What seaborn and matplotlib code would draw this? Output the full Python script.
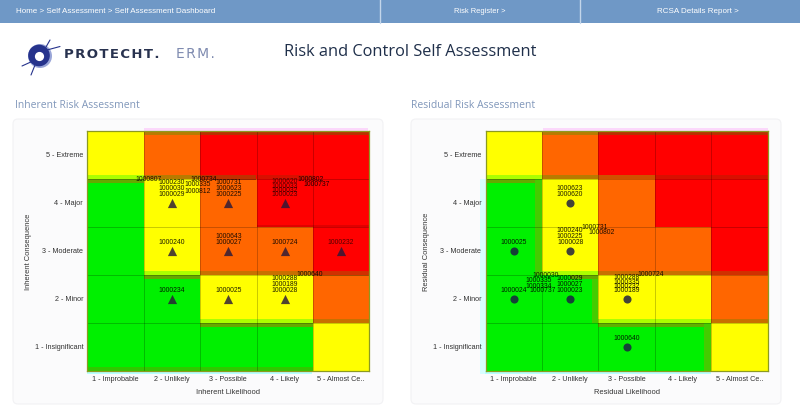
import numpy as np
import pandas as pd
import matplotlib
matplotlib.use('Agg')
import matplotlib.pyplot as plt
from matplotlib.colors import ListedColormap
from matplotlib.patches import FancyBboxPatch, Rectangle, Circle
import seaborn as sns

likelihood = ['1 - Improbable', '2 - Unlikely', '3 - Possible', '4 - Likely', '5 - Almost Ce..']
consequence = ['5 - Extreme', '4 - Major', '3 - Moderate', '2 - Minor', '1 - Insignificant']
# 0 green, 1 yellow, 2 orange, 3 red
risk_grid = [[1, 2, 3, 3, 3],
             [0, 1, 2, 3, 3],
             [0, 1, 2, 2, 3],
             [0, 0, 1, 1, 2],
             [0, 0, 0, 0, 1]]

# markers: column and row index into the grid, ids stacked above the marker
inh_cols = [1, 2, 3, 1, 2, 3, 4, 1, 2, 3]
inh_rows = [1, 1, 1, 2, 2, 2, 2, 3, 3, 3]
inh_ids = [['1000230', '1000030', '1000029'],
           ['1000731', '1000623', '1000225'],
           ['1000620', '1000033', '1000032', '1000023'],
           ['1000240'], ['1000643', '1000027'], ['1000724'], ['1000232'],
           ['1000234'], ['1000025'], ['1000288', '1000189', '1000028']]
# ids pushed off their stack, placed in cell units
inh_loose_ids = ['1000807', '1000734', '1000802', '1000737', '1000335', '1000812', '1000640']
inh_loose_x = [1.08, 2.07, 3.96, 4.07, 1.96, 1.96, 3.94]
inh_loose_y = [0.98, 0.98, 0.98, 1.1, 1.1, 1.23, 2.97]

res_cols = [1, 0, 1, 0, 1, 2, 2]
res_rows = [1, 2, 2, 3, 3, 3, 4]
res_ids = [['1000623', '1000620'], ['1000025'], ['1000240', '1000225', '1000028'],
           ['1000024'], ['1000029', '1000027', '1000023'],
           ['1000288', '1000335', '1000232', '1000189'], ['1000640']]
res_loose_ids = ['1000731', '1000802', '1000030', '1000335', '1000334', '1000737', '1000724']
res_loose_x = [1.93, 2.05, 1.07, 0.95, 0.95, 1.02, 2.93]
res_loose_y = [1.98, 2.1, 2.98, 3.1, 3.21, 3.3, 2.97]

CELL_H = 48.0
LIME = '#aaff00'
DARK_G = '#66a800'
DARK_O = '#b87a00'
DARK_R = '#b83000'
# left chart bleed strips: first col, last col, top px, bottom px, colour
inh_strips = [(1, 2, 132, 135.5, DARK_O), (2, 5, 132, 135.5, DARK_R),
              (0, 1, 176, 180, LIME), (0, 1, 180, 184, DARK_G), (1, 2, 176, 180, DARK_O),
              (2, 3, 176, 181, '#c03000'), (3, 4, 176, 180, '#d81000'), (3, 5, 226, 228, '#e00000'),
              (1, 2, 272, 276, LIME), (1, 2, 276, 280, DARK_G), (2, 4, 272, 276, '#c87000'),
              (4, 5, 272, 276, '#d03000'), (4, 5, 276, 277, '#d06000'),
              (2, 4, 320, 324, LIME), (2, 4, 324, 328, DARK_G), (4, 5, 320, 324, '#c87000'),
              (0, 4, 368, 372, '#30c800')]
res_strips = [(1, 2, 132, 135.5, DARK_O), (2, 5, 132, 135.5, DARK_R),
              (0, 1, 176, 180, LIME), (0, 1, 180, 184, DARK_G), (1, 2, 176, 180, DARK_O),
              (2, 3, 176, 180, '#d05000'), (3, 5, 176, 180, '#d81000'),
              (1, 2, 272, 276, LIME), (1.5, 2, 276, 280, DARK_G), (2, 4, 272, 276, '#c87000'),
              (4, 5, 272, 276, '#d03000'),
              (2, 4, 320, 324, LIME), (2, 4, 324, 328, '#60b000'), (4, 5, 320, 324, '#c87000'),
              (0.88, 1, 180, 276, '#44cc00'), (1.88, 2, 280, 324, '#44cc00'), (3.88, 4, 324, 372, '#44cc00')]

sns.set_theme(style='white')
plt.rcParams['font.family'] = ['Liberation Sans', 'DejaVu Sans']

fig = plt.figure(figsize=(8, 4.14), dpi=100, facecolor='white')
W, H = 800.0, 414.0

# page furniture drawn in pixel coordinates
page = fig.add_axes([0, 0, 1, 1], zorder=0)
page.set_xlim(0, W)
page.set_ylim(H, 0)
page.axis('off')
page.add_patch(Rectangle((0, 0), 800, 24, color='#6f98c6', lw=0))
for sep in [380, 580]:
    page.plot([sep, sep], [0, 24], color='#c4d6ea', lw=1)
page.text(16, 11.5, 'Home > Self Assessment > Self Assessment Dashboard', color='white', fontsize=5.75, va='center')
page.text(480, 11.5, 'Risk Register >', color='white', fontsize=5.4, ha='center', va='center')
page.text(698, 11.5, 'RCSA Details Report >', color='white', fontsize=5.75, ha='center', va='center')
page.text(410, 52.5, 'Risk and Control Self Assessment', color='#1f2f4a', fontsize=11.8, ha='center', va='center',
          family=['Open Sans', 'DejaVu Sans'])
page.text(15, 105.5, 'Inherent Risk Assessment', color='#8097ba', fontsize=7.5, va='center', family=['Open Sans', 'DejaVu Sans'])
page.text(411, 105.5, 'Residual Risk Assessment', color='#8097ba', fontsize=7.5, va='center', family=['Open Sans', 'DejaVu Sans'])

# logo
page.add_patch(Circle((40, 57), 12, color='#9aa6d8', lw=0))
page.add_patch(Circle((39, 56.5), 10.8, color='#26338c', lw=0))
page.add_patch(Circle((39.5, 57.5), 4.6, color='white', lw=0))
for x0, y0, x1, y1 in [(22, 67, 33, 62), (47, 51, 60, 47.5), (31, 76, 35, 66), (46, 48, 50, 41)]:
    page.plot([x0, x1], [y0, y1], color='#26338c', lw=0.8)
page.text(64, 54.5, '\u200a'.join('PROTECHT.'), color='#28324f', fontsize=9.5, fontweight='bold', va='center', family='DejaVu Sans')
page.text(176, 54.5, '\u200a'.join('ERM.'), color='#7f8bb0', fontsize=10, va='center', family='DejaVu Sans')

# chart cards and colour bleed around the grids
for x0, x1 in [(13, 383), (411, 781)]:
    page.add_patch(FancyBboxPatch((x0 + 5, 125), x1 - x0 - 10, 275, boxstyle='round,pad=5', fc='#fbfbfc', ec='#f2f2f4', lw=0.8))
page.add_patch(Rectangle((144, 128.5), 224, 3.5, color='#fbd8fb', lw=0))
page.add_patch(Rectangle((87, 372), 225, 3, color='#b8ffff', lw=0))
page.add_patch(Rectangle((543, 128.5), 225, 3.5, color='#fbd8fb', lw=0))
page.add_patch(Rectangle((480, 180), 5.5, 195, color='#d8ffff', lw=0))
page.add_patch(Rectangle((485, 372), 226, 3, color='#b8ffff', lw=0))

cmap = ListedColormap(['#00f000', '#ffff00', '#ff6600', '#ff0000'])
grid = pd.DataFrame(risk_grid, index=consequence, columns=likelihood)


def risk_map(left, xlabel, ylabel, ylabel_x, cols, rows, ids, loose_ids, loose_x, loose_y, strips, marker, msize, mcolor):
    ax = fig.add_axes([left / W, 1 - 372 / H, 282.0 / W, 240.0 / H], zorder=2)
    sns.heatmap(grid, ax=ax, cmap=cmap, vmin=-0.5, vmax=3.5, cbar=False, linewidths=0)
    for c0, c1, y0, y1, colour in strips:
        ax.add_patch(Rectangle((c0, (y0 - 132) / CELL_H), c1 - c0, (y1 - y0) / CELL_H, color=colour, lw=0, zorder=2))
    ax.hlines(range(1, 5), 0, 5, color='black', alpha=0.22, lw=0.7, zorder=2.5)
    ax.vlines(range(1, 5), 0, 5, color='black', alpha=0.22, lw=0.7, zorder=2.5)
    points = pd.DataFrame({'x': np.array(cols) + 0.5, 'y': np.array(rows) + 0.5})
    sns.scatterplot(data=points, x='x', y='y', ax=ax, marker=marker, s=msize, color=mcolor, alpha=0.82,
                    linewidth=0, legend=False, zorder=3)
    for c, r, stack in zip(cols, rows, ids):
        step = 4.2 if len(stack) > 3 else 6.0
        # ids on the red cells read fainter
        fade = 0.68 if risk_grid[r][c] == 3 else 0.88
        for i, label in enumerate(reversed(stack)):
            ax.text(c + 0.5, r + 0.5 - (9.5 + step * i) / CELL_H, label, fontsize=4.9, ha='center', va='center',
                    color='black', alpha=fade, zorder=4)
    for label, x, y in zip(loose_ids, loose_x, loose_y):
        ax.text(x, y, label, fontsize=4.9, ha='center', va='center', color='black', alpha=0.88, zorder=4, clip_on=False)
    ax.set_xlim(0, 5)
    ax.set_ylim(5, 0)
    for side in ax.spines.values():
        side.set_visible(True)
        side.set_color('#8c9a20')
        side.set_linewidth(0.9)
    ax.tick_params(axis='both', length=0, labelsize=5.2, labelcolor='#333333', pad=3)
    ax.set_xticklabels(likelihood, rotation=0)
    ax.set_yticklabels(consequence, rotation=0)
    ax.set_xlabel(xlabel, fontsize=5.4, color='#333333', labelpad=4)
    ax.set_ylabel('')
    page.text(ylabel_x, 252, ylabel, fontsize=5.4, color='#333333', rotation=90, ha='center', va='center')
    return ax


risk_map(87.3, 'Inherent Likelihood', 'Inherent Consequence', 28.5, inh_cols, inh_rows, inh_ids,
         inh_loose_ids, inh_loose_x, inh_loose_y, inh_strips, '^', 44, '#2a1a3a')
risk_map(485.5, 'Residual Likelihood', 'Residual Consequence', 427, res_cols, res_rows, res_ids,
         res_loose_ids, res_loose_x, res_loose_y, res_strips, 'o', 34, '#1a1a44')

fig.savefig('out.png', dpi=100)
